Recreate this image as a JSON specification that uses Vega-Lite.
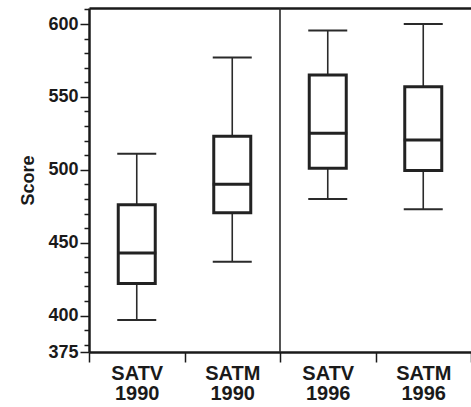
{
  "$schema": "https://vega.github.io/schema/vega-lite/v6.json",
  "width": 382,
  "height": 344,
  "autosize": "none",
  "padding": {"left": 89, "top": 8, "right": 0, "bottom": 55},
  "config": {
    "view": {"stroke": null},
    "font": "Liberation Sans, Arial, sans-serif",
    "axis": {
      "labelFont": "Liberation Sans, Arial, sans-serif",
      "titleFont": "Liberation Sans, Arial, sans-serif",
      "labelColor": "#1a1a1a",
      "titleColor": "#1a1a1a",
      "domainColor": "#1a1a1a",
      "tickColor": "#1a1a1a",
      "grid": false
    }
  },
  "datasets": {
    "scores": [
      {"group": "SATV 1990", "low": 397, "q1": 422, "median": 443, "q3": 476, "high": 511},
      {"group": "SATM 1990", "low": 437, "q1": 470.5, "median": 490, "q3": 523, "high": 577},
      {"group": "SATV 1996", "low": 480, "q1": 501, "median": 525, "q3": 565, "high": 595.5},
      {"group": "SATM 1996", "low": 473, "q1": 499.5, "median": 520.5, "q3": 557, "high": 600}
    ],
    "divider": [{"group": "SATV 1996"}]
  },
  "resolve": {"axis": {"x": "independent", "y": "independent"}},
  "layer": [
    {
      "data": {"name": "scores"},
      "mark": {"type": "rule", "color": "#2a2a2a", "strokeWidth": 1.6},
      "encoding": {
        "x": {
          "field": "group", "type": "nominal",
          "sort": ["SATV 1990", "SATM 1990", "SATV 1996", "SATM 1996"],
          "scale": {"domain": ["SATV 1990", "SATM 1990", "SATV 1996", "SATM 1996"], "paddingInner": 0, "paddingOuter": 0},
          "axis": {
            "orient": "bottom", "title": null, "labelAngle": 0,
            "labelExpr": "split(datum.label, ' ')",
            "labelFontSize": 20, "labelFontWeight": "bold", "labelLineHeight": 20,
            "labelPadding": 1, "tickBand": "extent", "tickSize": 10, "tickWidth": 1.5,
            "domainWidth": 2.5
          }
        },
        "y": {
          "field": "low", "type": "quantitative",
          "scale": {"domain": [375, 611], "nice": false, "zero": false},
          "axis": {
            "orient": "left", "title": "Score", "values": [375, 400, 450, 500, 550, 600],
            "labelFontSize": 18, "labelFontWeight": "bold", "labelPadding": 2,
            "tickSize": 9, "tickWidth": 1.5, "domainWidth": 2.5,
            "titleFontSize": 18, "titleFontWeight": "bold", "titlePadding": 10
          }
        },
        "y2": {"field": "high"}
      }
    },
    {
      "data": {"name": "scores"},
      "mark": {"type": "bar", "size": 37, "fill": "white", "stroke": "#222222", "strokeWidth": 3},
      "encoding": {
        "x": {"field": "group", "type": "nominal", "sort": ["SATV 1990", "SATM 1990", "SATV 1996", "SATM 1996"], "axis": null},
        "y": {"field": "q1", "type": "quantitative", "axis": null},
        "y2": {"field": "q3"}
      }
    },
    {
      "data": {"name": "scores"},
      "mark": {"type": "tick", "size": 39, "thickness": 3, "color": "#222222", "opacity": 1},
      "encoding": {
        "x": {"field": "group", "type": "nominal", "sort": ["SATV 1990", "SATM 1990", "SATV 1996", "SATM 1996"], "axis": null},
        "y": {"field": "median", "type": "quantitative", "axis": null}
      }
    },
    {
      "data": {"name": "scores"},
      "mark": {"type": "tick", "size": 39, "thickness": 2, "color": "#2a2a2a", "opacity": 1},
      "encoding": {
        "x": {"field": "group", "type": "nominal", "sort": ["SATV 1990", "SATM 1990", "SATV 1996", "SATM 1996"], "axis": null},
        "y": {"field": "high", "type": "quantitative", "axis": null}
      }
    },
    {
      "data": {"name": "scores"},
      "mark": {"type": "tick", "size": 39, "thickness": 2, "color": "#2a2a2a", "opacity": 1},
      "encoding": {
        "x": {"field": "group", "type": "nominal", "sort": ["SATV 1990", "SATM 1990", "SATV 1996", "SATM 1996"], "axis": null},
        "y": {
          "field": "low", "type": "quantitative",
          "axis": {
            "orient": "left", "title": null, "labels": false, "domain": false,
            "values": [380, 390, 410, 420, 430, 440, 460, 470, 480, 490, 510, 520, 530, 540, 560, 570, 580, 590, 610],
            "tickSize": 5, "tickWidth": 1.5
          }
        }
      }
    },
    {
      "data": {"name": "divider"},
      "mark": {"type": "rule", "color": "#2a2a2a", "strokeWidth": 1.6},
      "encoding": {
        "x": {
          "field": "group", "type": "nominal", "bandPosition": 0,
          "sort": ["SATV 1990", "SATM 1990", "SATV 1996", "SATM 1996"],
          "axis": {"orient": "top", "title": null, "labels": false, "ticks": false, "domainWidth": 2.5}
        }
      }
    }
  ]
}
